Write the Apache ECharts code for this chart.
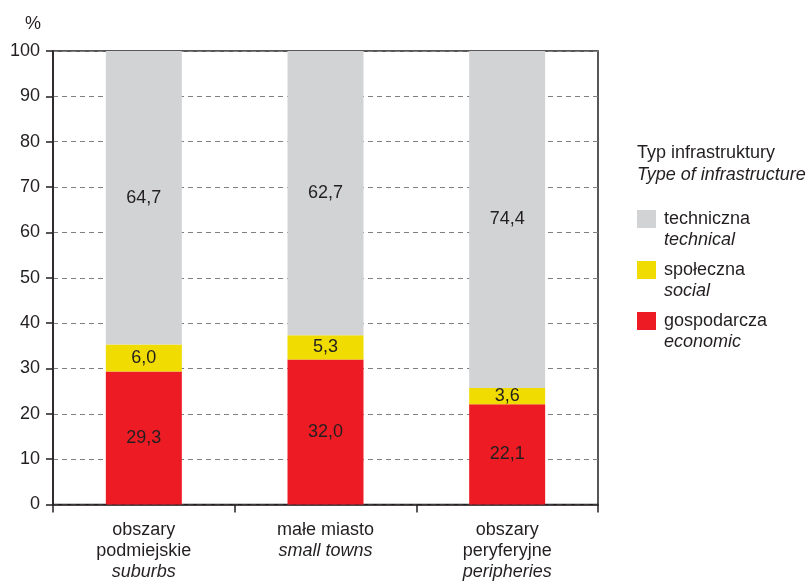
<!DOCTYPE html>
<html>
<head>
<meta charset="utf-8">
<script src="https://cdn.jsdelivr.net/npm/echarts@6/dist/echarts.min.js"></script>
<style>html,body{margin:0;padding:0;background:#fff}#c{width:812px;height:581px}</style>
</head>
<body>
<div id="c"></div>
<script>
const categoriesPL = [['obszary', 'podmiejskie'], ['małe miasto'], ['obszary', 'peryferyjne']];
const categoriesEN = ['suburbs', 'small towns', 'peripheries'];
const economic = [29.3, 32.0, 22.1];
const social = [6.0, 5.3, 3.6];
const technical = [64.7, 62.7, 74.4];
const seriesNamesPL = ['gospodarcza', 'społeczna', 'techniczna'];
const seriesNamesEN = ['economic', 'social', 'technical'];
const yTicks = [0, 10, 20, 30, 40, 50, 60, 70, 80, 90, 100];

const FONT = 'Liberation Sans, Arial, sans-serif';
const TXT = '#231f20';
const FS = 18;
const colors = ['#ed1c24', '#f0dc00', '#d1d3d4'];
const values = [economic, social, technical];

const catKeys = categoriesEN.map((e, i) => 'c' + i);
const catLabel = {};
catKeys.forEach((k, i) => {
  catLabel[k] = categoriesPL[i].map(s => '{n|' + s + '}').join('\n') + '\n{i|' + categoriesEN[i] + '}';
});

const fmt = v => v.toFixed(1).replace('.', ',');

const chart = echarts.init(document.getElementById('c'), null, {renderer: 'canvas'});
chart.setOption({
  animation: false,
  textStyle: {fontFamily: FONT, color: TXT},
  grid: {left: 53, right: 214, top: 51, bottom: 76, show: true, borderColor: TXT, borderWidth: 1.5, backgroundColor: 'transparent'},
  title: {
    left: 637, top: 143, padding: 0,
    text: '{a|Typ infrastruktury}\n{b|Type of infrastructure}',
    textStyle: {
      fontWeight: 'normal',
      rich: {
        a: {fontFamily: FONT, fontSize: FS, fontWeight: 'normal', color: TXT, lineHeight: 21},
        b: {fontFamily: FONT, fontSize: FS, fontWeight: 'normal', color: TXT, fontStyle: 'italic', lineHeight: 21}
      }
    }
  },
  legend: {
    orient: 'vertical', left: 637, top: 189, padding: 0,
    itemWidth: 19, itemHeight: 18, itemGap: -9,
    data: seriesNamesPL.slice().reverse(),
    icon: 'rect',
    formatter: name => {
      const idx = seriesNamesPL.indexOf(name);
      return '{e| }\n{a|' + name + '}\n{b|' + seriesNamesEN[idx] + '}';
    },
    textStyle: {
      rich: {
        e: {fontFamily: FONT, fontSize: FS, lineHeight: 21, padding: [0, 0, 0, 3]},
        a: {fontFamily: FONT, fontSize: FS, color: TXT, lineHeight: 21, padding: [0, 0, 0, 3]},
        b: {fontFamily: FONT, fontSize: FS, color: TXT, fontStyle: 'italic', lineHeight: 21, padding: [0, 0, 0, 3]}
      }
    }
  },
  xAxis: {
    type: 'category',
    data: catKeys,
    axisLine: {lineStyle: {color: TXT, width: 1.5}},
    axisTick: {show: true, length: 8, alignWithLabel: false, lineStyle: {color: TXT, width: 1.5}},
    axisLabel: {
      margin: 15, interval: 0,
      formatter: v => catLabel[v],
      rich: {
        n: {fontFamily: FONT, fontSize: FS, color: TXT, lineHeight: 21},
        i: {fontFamily: FONT, fontSize: FS, color: TXT, lineHeight: 21, fontStyle: 'italic'}
      }
    },
    splitLine: {show: false}
  },
  yAxis: {
    type: 'value', min: yTicks[0], max: yTicks[yTicks.length - 1], interval: yTicks[1] - yTicks[0],
    name: '%', nameLocation: 'end', nameGap: 18,
    nameTextStyle: {fontFamily: FONT, fontSize: FS, color: TXT, align: 'right', padding: [0, 12, 0, 0]},
    axisLine: {show: true, lineStyle: {color: TXT, width: 1.5}},
    axisTick: {show: true, length: 7, lineStyle: {color: TXT, width: 1.5}},
    axisLabel: {margin: 13, fontFamily: FONT, fontSize: FS, color: TXT},
    splitLine: {show: true, lineStyle: {color: '#808080', width: 1.2, type: [5, 4]}}
  },
  series: seriesNamesPL.map((name, si) => ({
    name: name,
    type: 'bar',
    stack: 'total',
    barWidth: 76,
    data: values[si],
    itemStyle: {color: colors[si]},
    label: {
      show: true, position: 'inside',
      fontFamily: FONT, fontSize: FS, color: TXT,
      formatter: p => fmt(p.value)
    }
  }))
});
</script>
</body>
</html>
